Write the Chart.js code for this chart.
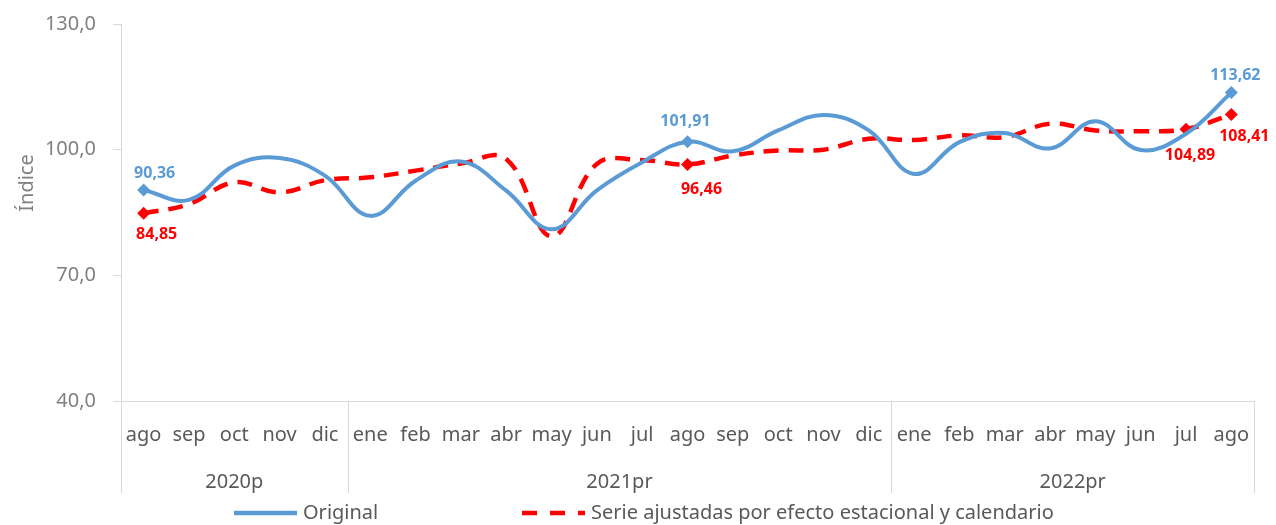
<!DOCTYPE html>
<html>
<head>
<meta charset="utf-8">
<script src="https://cdn.jsdelivr.net/npm/chart.js@4"></script>
<style>
    body { margin: 0; background: #fff; }
    #wrap { width: 1276px; height: 525px; }
</style>
</head>
<body>
<div id="wrap"><canvas id="indexChart" width="1276" height="525"></canvas></div>
<script>
const months = ['ago', 'sep', 'oct', 'nov', 'dic',
    'ene', 'feb', 'mar', 'abr', 'may', 'jun', 'jul', 'ago', 'sep', 'oct', 'nov', 'dic',
    'ene', 'feb', 'mar', 'abr', 'may', 'jun', 'jul', 'ago'];
const years = ['2020p', '2021pr', '2022pr'];
const yearSpans = [5, 12, 8];

const original = [90.36, 88.0, 96.2, 98.0, 93.8, 84.2, 92.6, 97.2, 90.2, 81.0, 90.3, 97.0,
    101.91, 99.6, 104.6, 108.3, 104.6, 94.2, 101.8, 104.0, 100.3, 106.8, 99.9, 103.8, 113.62];
const ajustada = [84.85, 87.0, 92.2, 89.8, 92.7, 93.4, 95.0, 96.7, 97.8, 79.3, 96.6, 97.5,
    96.46, 98.6, 99.8, 100.0, 102.6, 102.3, 103.4, 103.0, 106.2, 104.6, 104.4, 104.89, 108.41];

const yTicks = [40, 70, 100, 130];
const originalMarked = [0, 12, 24];
const ajustadaMarked = [0, 12, 23, 24];

const BLUE = '#5B9BD5';
const RED = '#FF0000';
const FONT = '"Noto Sans", "Open Sans", sans-serif';

function fmt(v) {
    return v.toFixed(2).replace('.', ',');
}

// where each value label sits, relative to its point
const labelSpots = [
    { ds: 0, i: 0, dx: 11, dy: -17 },
    { ds: 1, i: 0, dx: 13, dy: 21 },
    { ds: 0, i: 12, dx: -2, dy: -20 },
    { ds: 1, i: 12, dx: 14, dy: 25 },
    { ds: 0, i: 24, dx: 4, dy: -17 },
    { ds: 1, i: 23, dx: 4, dy: 26 },
    { ds: 1, i: 24, dx: 13, dy: 22 }
];

const extras = {
    id: 'extras',
    afterDraw(chart) {
        const ctx = chart.ctx;
        const area = chart.chartArea;
        const band = (area.right - area.left) / months.length;

        ctx.save();
        // year group dividers and labels
        ctx.strokeStyle = '#d9d9d9';
        ctx.lineWidth = 1;
        let start = 0;
        const edges = [0];
        yearSpans.forEach(n => { start += n; edges.push(start); });
        edges.forEach(e => {
            const px = Math.round(area.left + e * band) + 0.5;
            ctx.beginPath();
            ctx.moveTo(px, area.bottom);
            ctx.lineTo(px, 493);
            ctx.stroke();
        });
        ctx.fillStyle = '#595959';
        ctx.font = '20px ' + FONT;
        ctx.textAlign = 'center';
        ctx.textBaseline = 'middle';
        years.forEach((y, k) => {
            const mid = area.left + (edges[k] + edges[k + 1]) / 2 * band;
            ctx.fillText(y, mid, 482);
        });

        // y title
        ctx.save();
        ctx.translate(27, 183);
        ctx.rotate(-Math.PI / 2);
        ctx.fillStyle = '#808080';
        ctx.fillText('Índice', 0, 0);
        ctx.restore();

        // value labels
        ctx.font = 'bold 16px ' + FONT;
        labelSpots.forEach(s => {
            const pt = chart.getDatasetMeta(s.ds).data[s.i];
            const v = chart.data.datasets[s.ds].data[s.i];
            ctx.fillStyle = s.ds === 0 ? BLUE : RED;
            ctx.fillText(fmt(v), pt.x + s.dx, pt.y + s.dy);
        });

        // legend
        ctx.font = '20px ' + FONT;
        ctx.textAlign = 'left';
        ctx.fillStyle = '#595959';
        ctx.lineWidth = 4.5;
        ctx.strokeStyle = BLUE;
        ctx.beginPath();
        ctx.moveTo(234, 513);
        ctx.lineTo(297, 513);
        ctx.stroke();
        ctx.fillText('Original', 303, 513);
        ctx.strokeStyle = RED;
        ctx.setLineDash([15, 13]);
        ctx.beginPath();
        ctx.moveTo(522, 513);
        ctx.lineTo(585, 513);
        ctx.stroke();
        ctx.setLineDash([]);
        ctx.fillText('Serie ajustadas por efecto estacional y calendario', 591, 513);
        ctx.restore();
    }
};

function radii(marked) {
    return months.map((m, i) => marked.includes(i) ? 6.5 : 0);
}

const ctx = document.getElementById('indexChart').getContext('2d');
new Chart(ctx, {
    type: 'line',
    data: {
        labels: months,
        datasets: [{
            label: 'Original',
            data: original,
            borderColor: BLUE,
            backgroundColor: BLUE,
            borderWidth: 4,
            tension: 0.4,
            pointStyle: 'rectRot',
            pointRadius: radii(originalMarked),
            pointBorderWidth: 0
        }, {
            label: 'Serie ajustadas por efecto estacional y calendario',
            data: ajustada,
            borderColor: RED,
            backgroundColor: RED,
            borderWidth: 4.5,
            borderDash: [15, 10],
            tension: 0.4,
            pointStyle: 'rectRot',
            pointRadius: radii(ajustadaMarked),
            pointBorderWidth: 0
        }]
    },
    options: {
        responsive: false,
        animation: false,
        layout: { padding: { left: 0, top: 24, right: 22, bottom: 0 } },
        plugins: {
            legend: { display: false },
            tooltip: { enabled: false }
        },
        scales: {
            x: {
                offset: true,
                grid: { display: false, drawTicks: false },
                border: { color: '#d9d9d9', width: 1 },
                ticks: {
                    color: '#595959',
                    font: { family: FONT, size: 20 },
                    padding: 22,
                    autoSkip: false,
                    maxRotation: 0
                },
                afterFit(scale) {
                    scale.height = 124;
                    scale.paddingLeft = 0;
                    scale.paddingRight = 0;
                }
            },
            y: {
                min: 40,
                max: 130,
                afterBuildTicks(scale) { scale.ticks = yTicks.map(v => ({ value: v })); },
                grid: { drawOnChartArea: false, tickLength: 8, color: '#d9d9d9' },
                border: { color: '#d9d9d9', width: 1 },
                ticks: {
                    color: '#808080',
                    font: { family: FONT, size: 20 },
                    padding: 17,
                    callback: v => v.toFixed(1).replace('.', ',')
                },
                afterFit(scale) {
                    scale.width = 121;
                    scale.paddingTop = 0;
                    scale.paddingBottom = 0;
                }
            }
        }
    },
    plugins: [extras]
});
</script>
</body>
</html>
